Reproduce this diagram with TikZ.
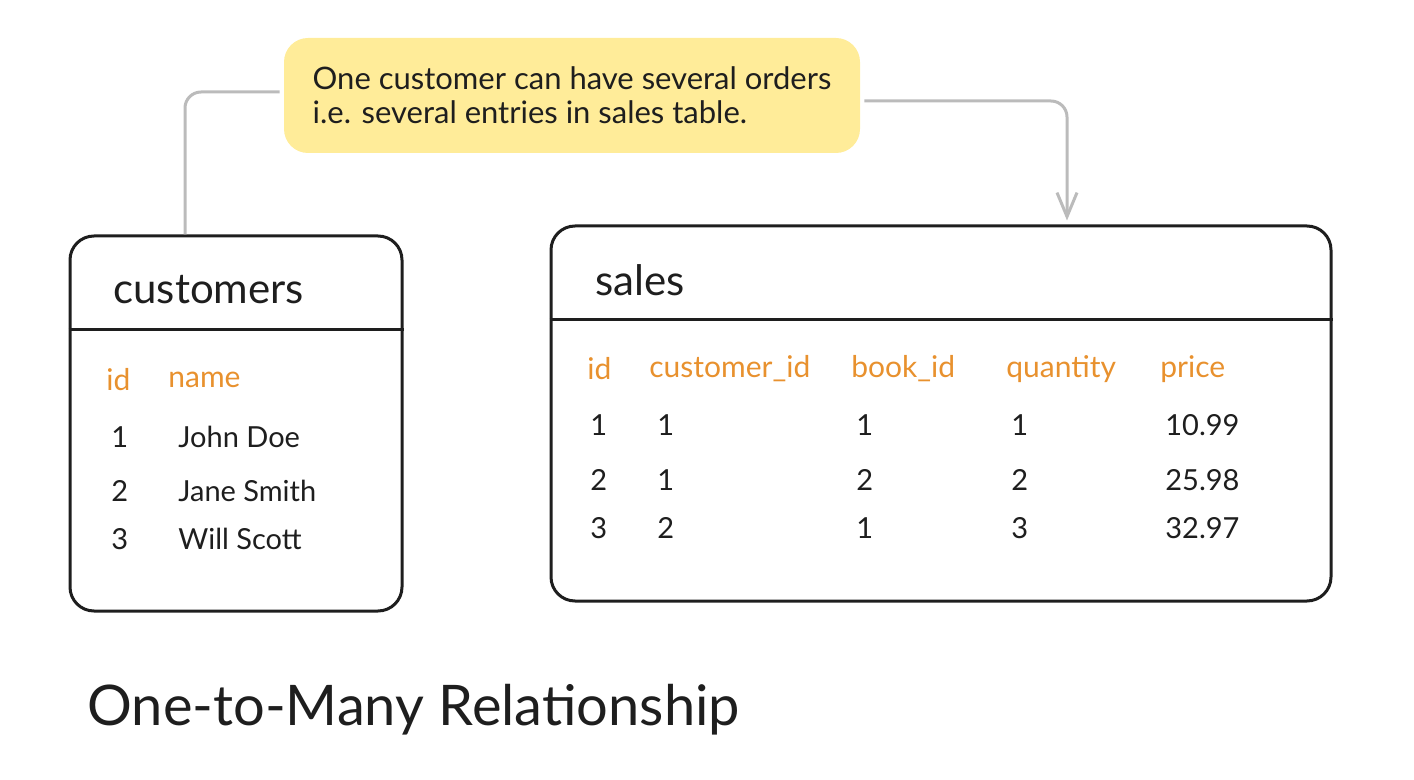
\documentclass[tikz,border=0pt]{standalone}
\usepackage{fontspec}
\setmainfont{Lato}
\usetikzlibrary{arrows.meta}
\definecolor{ink}{HTML}{1E1E1E}
\definecolor{notefill}{HTML}{FFEC99}
\definecolor{headorange}{HTML}{E8912E}
\definecolor{linkgray}{HTML}{BBBBBB}

\begin{document}
\begin{tikzpicture}[x=0.5pt, y=-0.5pt]
      \tikzstyle{tablebox} = [draw=ink, line width=1.5pt, rounded corners=12pt, inner sep=0pt, minimum height=187.5pt]
      \tikzstyle{note} = [fill=notefill, rounded corners=12pt, minimum width=288pt, minimum height=57.5pt, inner sep=0pt, align=left, text=ink, font=\fontsize{15.5}{17}\selectfont]
      \tikzstyle{link} = [draw=linkgray, line width=1.5pt, rounded corners=8pt]
      \tikzstyle{arrow} = [link, -{Straight Barb[length=12pt, width=10pt]}]
      \tikzstyle{tname} = [anchor=west, inner sep=0pt, text=ink, font=\fontsize{21}{25}\selectfont]
      \tikzstyle{head} = [anchor=west, inner sep=0pt, text=headorange, font=\fontsize{15}{18}\selectfont]
      \tikzstyle{cell} = [anchor=west, inner sep=0pt, text=ink, font=\fontsize{14.5}{17}\selectfont]

      \useasboundingbox (0,0) rectangle (1414,780);

      \node[note] (note) at (572, 95.5) {One customer can have several orders\\i.e. several entries in sales table.};

      % customers table
      \node[tablebox, minimum width=166pt] (cust) at (236, 423.5) {};
      \draw[ink, line width=1.5pt] ([yshift=-47.5pt]cust.north west) -- ([yshift=-47.5pt]cust.north east);
      \node[tname] (cust-title) at (113, 290) {customers};
      \node[head] (cust-id) at (106, 380) {id};
      \node[head] (cust-name) at (168, 380) {name};
      \foreach \i/\y/\nm in {1/437/John Doe, 2/491/Jane Smith, 3/539/Will Scott}
      {
        \node[cell] (cust-id-\i) at (111, \y) {\i};
        \node[cell] (cust-name-\i) at (178, \y) {\nm};
      }

      % sales table
      \node[tablebox, minimum width=390pt] (sales) at (941, 413.5) {};
      \draw[ink, line width=1.5pt] ([yshift=-47.5pt]sales.north west) -- ([yshift=-47.5pt]sales.north east);
      \node[tname] (sales-title) at (595, 280) {sales};
      \foreach \c/\x/\h in {id/587/id, cust/649/customer\_id, book/851/book\_id, qty/1006/quantity, price/1160/price}
        \node[head] (sales-\c) at (\x, 369) {\h};
      \foreach \i/\y/\cu/\bk/\qt/\pr in {1/425/1/1/1/10.99, 2/480/1/2/2/25.98, 3/528/2/1/3/32.97}
      {
        \node[cell] (sales-id-\i) at (590, \y) {\i};
        \node[cell] (sales-cust-\i) at (657, \y) {\cu};
        \node[cell] (sales-book-\i) at (856, \y) {\bk};
        \node[cell] (sales-qty-\i) at (1011, \y) {\qt};
        \node[cell] (sales-price-\i) at (1165, \y) {\pr};
      }

      % connectors
      \draw[link, shorten >=2pt] ([xshift=-25.5pt]cust.north) |- ([yshift=1.75pt]note.west);
      \draw[arrow, shorten <=2pt, shorten >=2pt] ([yshift=-2.75pt]note.east) -| ([xshift=63pt]sales.north);

      \node[anchor=west, inner sep=0pt, text=ink, font=\fontsize{28}{33}\selectfont] (title) at (87, 710) {One-to-Many Relationship};
  \end{tikzpicture}
\end{document}
